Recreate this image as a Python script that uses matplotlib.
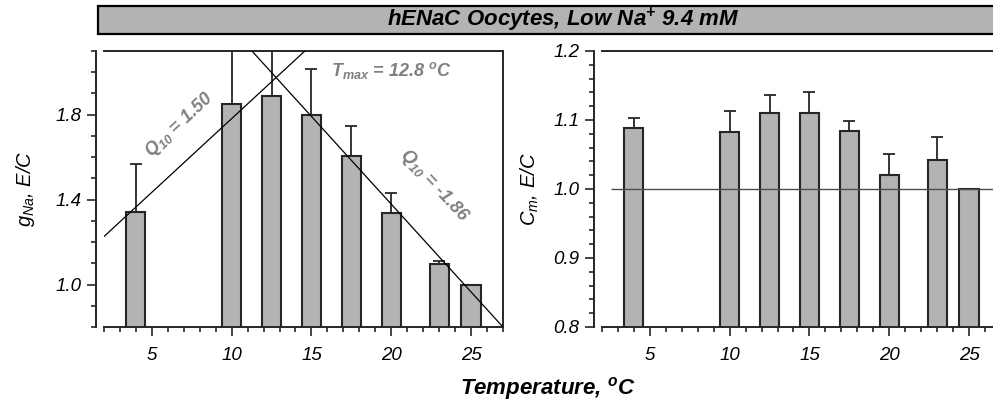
import matplotlib
matplotlib.use("Agg")
import matplotlib.pyplot as plt
from matplotlib.patches import Rectangle
from matplotlib.ticker import MultipleLocator, FixedLocator, FormatStrFormatter

plt.rcParams['font.family'] = ['Liberation Sans', 'DejaVu Sans']
plt.rcParams['font.style'] = 'italic'
plt.rcParams['mathtext.fontset'] = 'custom'
plt.rcParams['mathtext.rm'] = 'Liberation Sans:italic'
plt.rcParams['mathtext.it'] = 'Liberation Sans:italic'
plt.rcParams['mathtext.bf'] = 'Liberation Sans:bold:italic'

# temperatures (deg C) of the measurements
temps = [4, 10, 12.5, 15, 17.5, 20, 23, 25]

# g_Na, normalised E/C
gna = [1.34, 1.85, 1.89, 1.80, 1.605, 1.335, 1.096, 1.0]
gna_err = [0.23, 0.30, 0.28, 0.215, 0.14, 0.095, 0.017, 0.0]

# C_m, normalised E/C
cm = [1.088, 1.083, 1.110, 1.110, 1.084, 1.020, 1.042, 1.0]
cm_err = [0.015, 0.030, 0.026, 0.031, 0.014, 0.031, 0.033, 0.0]

# fitted Q10 lines on the g_Na panel
rise_temp = [2.0, 16.0]
rise_g = [1.226, 2.198]
fall_temp = [10.0, 27.0]
fall_g = [2.205, 0.80]

gna_ticks = [1.0, 1.4, 1.8]

bar_fill = '#b3b3b3'
dark = '#262626'
note_grey = '#808080'

fig = plt.figure(figsize=(9.93, 4.03), dpi=100)
ax1 = fig.add_axes([0.1047, 0.1886, 0.4018, 0.6849])
ax2 = fig.add_axes([0.6062, 0.1886, 0.4018, 0.6849])


def style_axis(ax, ymin, ymax, minor):
    ax.set_xlim(2, 27)
    ax.set_ylim(ymin, ymax)
    ax.xaxis.set_major_locator(MultipleLocator(5))
    ax.xaxis.set_minor_locator(MultipleLocator(1))
    ax.yaxis.set_minor_locator(MultipleLocator(minor))
    ax.yaxis.set_major_formatter(FormatStrFormatter('%.1f'))
    for side in ['left', 'bottom', 'top', 'right']:
        ax.spines[side].set_color(dark)
        ax.spines[side].set_linewidth(1.4)
    ax.spines['left'].set_position(('outward', 5.5))
    ax.tick_params(which='both', direction='out', color=dark, width=1.2,
                   top=False, right=False, labelsize=13.5)
    ax.tick_params(which='major', length=6.5)
    ax.tick_params(which='minor', length=3.5)
    ax.tick_params(axis='x', which='major', pad=8.0)
    ax.tick_params(axis='y', which='major', pad=4.5)


def draw_bars(ax, vals, errs):
    ax.bar(temps, vals, width=1.2, color=bar_fill, edgecolor=dark,
           linewidth=1.5, zorder=2)
    ax.errorbar(temps, vals, yerr=[[0] * len(errs), errs], fmt='none',
                ecolor=dark, elinewidth=1.3, capsize=4, capthick=1.3,
                zorder=1)


# left: g_Na
style_axis(ax1, 0.8, 2.1, 0.1)
ax1.yaxis.set_major_locator(FixedLocator(gna_ticks))
draw_bars(ax1, gna, gna_err)
ax1.plot(rise_temp, rise_g, color='black', lw=0.9, zorder=3)
ax1.plot(fall_temp, fall_g, color='black', lw=0.9, zorder=3)
ax1.set_ylabel(r'$g_{Na}$, E/C', fontsize=14.5, labelpad=13)

ax1.text(6.75, 1.75, r'$\mathbf{Q_{10}}$ = 1.50', rotation=43,
         ha='center', va='center', fontsize=13, fontweight='bold',
         color=note_grey)
ax1.text(22.7, 1.468, r'$\mathbf{Q_{10}}$ = -1.86', rotation=-47,
         ha='center', va='center', fontsize=13, fontweight='bold',
         color=note_grey)
ax1.text(20.0, 2.01, r'$\mathbf{T_{max}}$ = 12.8 $\mathbf{^{o}}$C',
         ha='center', va='center', fontsize=13, fontweight='bold',
         color=note_grey)

# right: C_m
style_axis(ax2, 0.8, 1.2, 0.02)
ax2.yaxis.set_major_locator(MultipleLocator(0.1))
draw_bars(ax2, cm, cm_err)
ax2.hlines(1.0, 2.55, 27, color='#4d4d4d', lw=1.0, zorder=3)
ax2.set_ylabel(r'$C_{m}$, E/C', fontsize=14.5, labelpad=9)

fig.text(0.552, 0.037, r'Temperature, $\mathbf{^{o}}$C', ha='center',
         va='center', fontsize=16, fontweight='bold')

# title band
fig.patches.append(Rectangle((0.0987, 0.9156), 0.94, 0.0695,
                             transform=fig.transFigure, facecolor=bar_fill,
                             edgecolor='black', linewidth=1.6, zorder=0))
fig.text(0.567, 0.951, r'hENaC Oocytes, Low Na$\mathbf{^{+}}$ 9.4 mM',
         ha='center', va='center', fontsize=16, fontweight='bold')

fig.savefig('out.png', dpi=100)
